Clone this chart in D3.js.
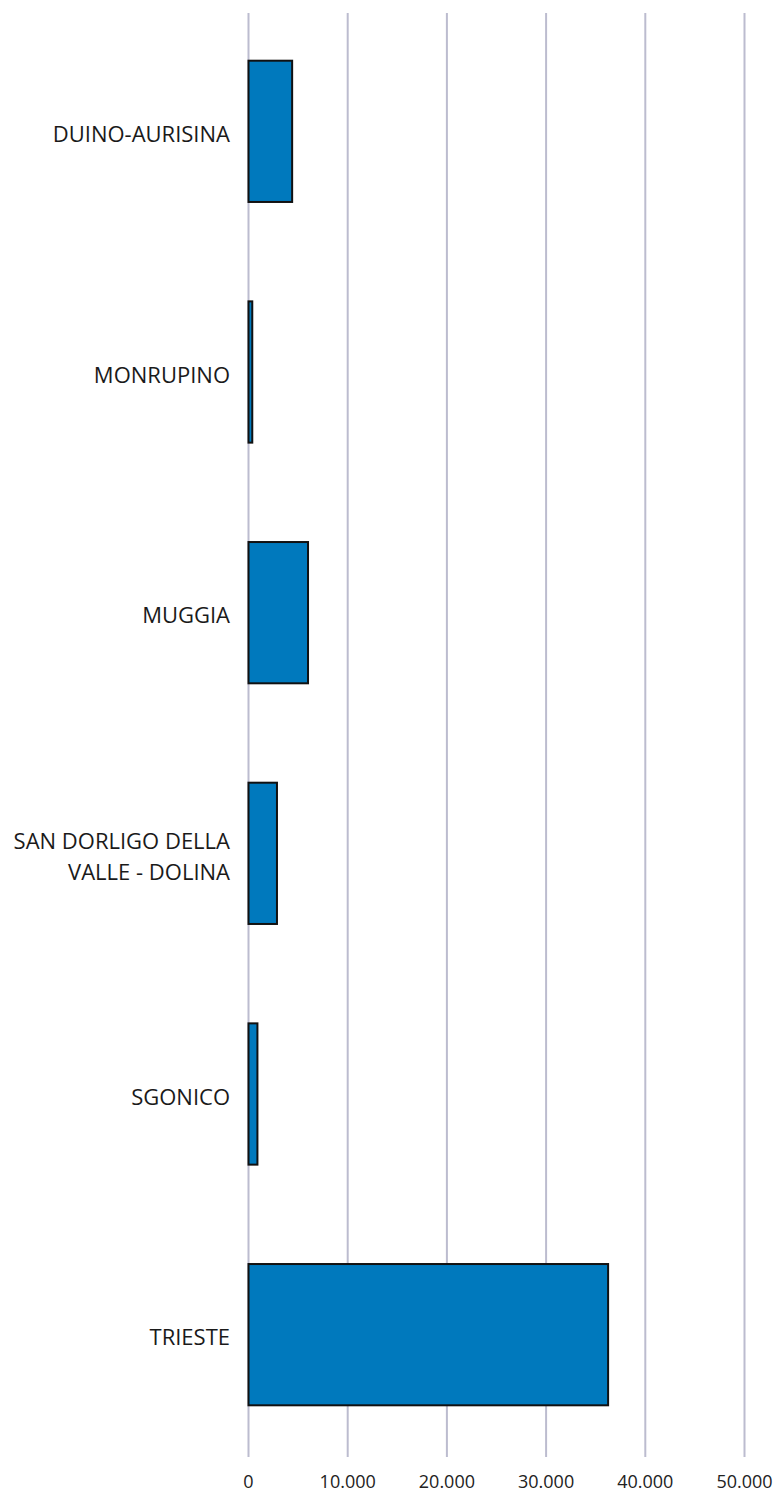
<!DOCTYPE html>
<html><head><meta charset="utf-8">
<script src="https://cdn.jsdelivr.net/npm/d3@7"></script>
<style>body{margin:0;background:#fff}</style>
</head><body>
<script>
const categories = ["DUINO-AURISINA","MONRUPINO","MUGGIA","SAN DORLIGO DELLA VALLE - DOLINA","SGONICO","TRIESTE"];
const labelLines = [["DUINO-AURISINA"],["MONRUPINO"],["MUGGIA"],["SAN DORLIGO DELLA","VALLE - DOLINA"],["SGONICO"],["TRIESTE"]];
const values = [4400, 380, 6000, 2870, 900, 36250];
const tickValues = [0,10000,20000,30000,40000,50000];
const tickLabels = ["0","10.000","20.000","30.000","40.000","50.000"];

const W=775,H=1492;
const svg=d3.select("body").append("svg").attr("width",W).attr("height",H);
const x=d3.scaleLinear().domain([0,50000]).range([248.5,744.5]);
const y=d3.scaleBand().domain(categories).range([11,1455]).paddingInner(0.413).paddingOuter(0.2065);

svg.append("g").selectAll("line").data(tickValues).join("line")
  .attr("x1",d=>x(d)).attr("x2",d=>x(d)).attr("y1",13).attr("y2",1457)
  .attr("stroke","#bcbccf").attr("stroke-width",2);

svg.append("g").selectAll("rect").data(values).join("rect")
  .attr("x",x(0)).attr("y",(d,i)=>y(categories[i]))
  .attr("width",d=>x(d)-x(0)).attr("height",y.bandwidth())
  .attr("fill","#0079bd").attr("stroke","#111").attr("stroke-width",2);

const lab=svg.append("g").attr("font-family","'Open Sans'").attr("font-size",22).attr("fill","#1a1a1a").attr("text-anchor","end");
labelLines.forEach((lines,i)=>{
  const cy=y(categories[i])+y.bandwidth()/2+3;
  const lh=31;
  const t=lab.append("text").attr("x",230);
  lines.forEach((l,j)=>{
    t.append("tspan").attr("x",230).attr("y",cy+(j-(lines.length-1)/2)*lh).attr("dy","0.35em").text(l);
  });
});

svg.append("g").attr("font-family","'Open Sans'").attr("font-size",18).attr("fill","#222").attr("text-anchor","middle")
  .selectAll("text").data(tickValues).join("text")
  .attr("x",d=>x(d)).attr("y",1482).attr("dy","0.35em").text((d,i)=>tickLabels[i]);
</script>
</body></html>
